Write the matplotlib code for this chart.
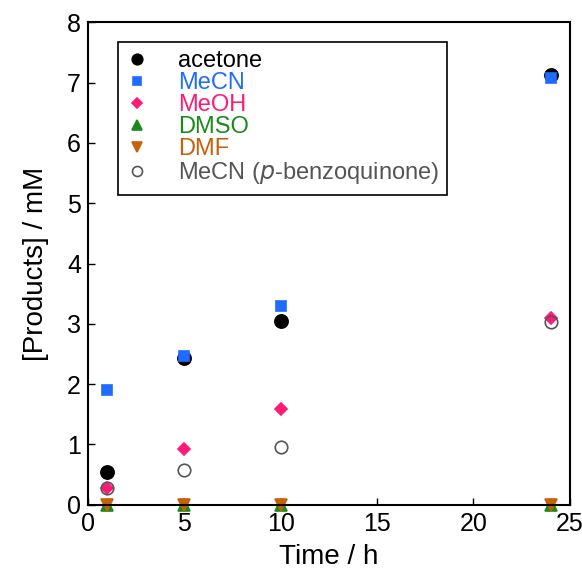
import matplotlib
matplotlib.use("Agg")
import matplotlib.pyplot as plt

plt.rcParams["font.family"] = ["Liberation Sans", "DejaVu Sans"]

time_h = [1, 5, 10, 24]
acetone = [0.55, 2.43, 3.05, 7.13]
mecn = [1.91, 2.47, 3.29, 7.08]
meoh = [0.27, 0.93, 1.58, 3.09]
dmso = [0.0, 0.0, 0.0, 0.0]
dmf = [0.0, 0.0, 0.0, 0.0]
mecn_bq = [0.27, 0.58, 0.96, 3.03]

series = [
    ("acetone", acetone, "o", "black", "black", 9.5),
    ("MeCN", mecn, "s", "#1f6bff", "#1f6bff", 7.5),
    ("MeOH", meoh, "D", "#ff1a75", "#ff1a75", 6.5),
    ("DMSO", dmso, "^", "#1a8a1a", "#1a8a1a", 8.5),
    ("DMF", dmf, "v", "#c8600a", "#c8600a", 8.5),
    ("MeCN ($p$-benzoquinone)", mecn_bq, "o", "none", "#555555", 9),
]
text_colors = ["black", "#1f6bff", "#ff1a75", "#1a8a1a", "#c8600a", "#555555"]

fig = plt.figure(figsize=(5.82, 5.71), dpi=100)
ax = fig.add_axes([0.151, 0.116, 0.828, 0.845])

for label, vals, mk, fc, ec, ms in series:
    ax.plot(time_h, vals, linestyle="none", marker=mk, markersize=ms,
            markerfacecolor=fc, markeredgecolor=ec, markeredgewidth=1.2,
            label=label, clip_on=False)

ax.set_xlim(0, 25)
ax.set_ylim(0, 8)
ax.set_xticks([0, 5, 10, 15, 20, 25])
ax.set_yticks(range(0, 9))
ax.tick_params(direction="in", labelsize=18, length=5, width=1, pad=5)
ax.set_xlabel("Time / h", fontsize=20, labelpad=6)
ax.set_ylabel("[Products] / mM", fontsize=20, labelpad=13)
for sp in ax.spines.values():
    sp.set_linewidth(1.5)

leg = ax.legend(loc="upper left", bbox_to_anchor=(0.062, 0.959), fontsize=17,
                markerscale=0.8, handletextpad=1.3, labelspacing=0.0,
                borderpad=0.35, borderaxespad=0, handlelength=0.9,
                fancybox=False, edgecolor="black", framealpha=1)
leg.get_frame().set_linewidth(1.2)
for t, c in zip(leg.get_texts(), text_colors):
    t.set_color(c)

fig.savefig("out.png", dpi=100)
